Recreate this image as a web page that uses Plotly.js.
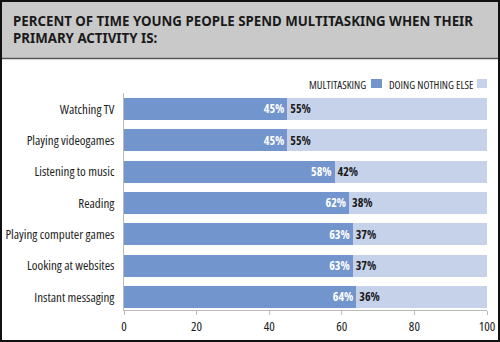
<!DOCTYPE html>
<html><head><meta charset="utf-8">
<script src="https://cdn.plot.ly/plotly-3.0.1.min.js"></script>
<style>html,body{margin:0;padding:0;background:#fff}#chart{width:500px;height:342px}
text,tspan{font-stretch:condensed !important}</style>
</head><body><div id="chart"></div>
<script>
const categories = ["Watching TV","Playing videogames","Listening to music","Reading","Playing computer games","Looking at websites","Instant messaging"];
const multitasking = [45,45,58,62,63,63,64];
const nothingElse = [55,55,42,38,37,37,36];
const xTicks = [0,20,40,60,80,100];

const FONT = "'Open Sans','Roboto Condensed','DejaVu Sans Condensed',sans-serif";
const TITLE_FONT = "'Noto Sans','Open Sans',sans-serif";

const traces = [
  {type:'bar', orientation:'h', name:'MULTITASKING', y:categories, x:multitasking,
   marker:{color:'#7395cd', line:{width:0}}, width:0.7,
   text:multitasking.map(v=>v+'%'), textposition:'inside', insidetextanchor:'end',
   textfont:{color:'#ffffff', size:12, family:FONT, weight:'bold'}, constraintext:'none', hoverinfo:'skip'},
  {type:'bar', orientation:'h', name:'DOING NOTHING ELSE', y:categories, x:nothingElse,
   marker:{color:'#c6d1ea', line:{width:0}}, width:0.7,
   text:nothingElse.map(v=>v+'%'), textposition:'inside', insidetextanchor:'start',
   textfont:{color:'#1a1a1a', size:12, family:FONT, weight:'bold'}, constraintext:'none', hoverinfo:'skip'}
];

const layout = {
  width:500, height:342,
  margin:{l:124, r:13, t:93, b:32},
  paper_bgcolor:'#ffffff', plot_bgcolor:'#ffffff',
  barmode:'stack', showlegend:false,
  font:{family:FONT, color:'#222'},
  title:{text:'PERCENT OF TIME YOUNG PEOPLE SPEND MULTITASKING WHEN THEIR<br>PRIMARY ACTIVITY IS:',
         x:13/500, xref:'container', xanchor:'left', y:1-26/342, yref:'container', yanchor:'top',
         font:{family:TITLE_FONT, size:13.3, color:'#1a1a1a', weight:'bold'}},
  xaxis:{range:[0,100], tickvals:xTicks, ticktext:xTicks.map(String), showgrid:false, zeroline:false,
         showline:true, linecolor:'#bbbbbb', linewidth:1, ticks:'outside', ticklen:4, tickcolor:'#bbbbbb',
         tickfont:{size:13, color:'#222', family:FONT}, fixedrange:true},
  yaxis:{type:'category', categoryorder:'array', categoryarray:categories, range:[6.415,-0.51],
         showgrid:false, zeroline:false, showline:true, linecolor:'#bbbbbb', linewidth:1, ticks:'',
         ticklabelstandoff:6, tickfont:{size:13, color:'#1e1e1e', family:FONT}, fixedrange:true},
  shapes:[
    {type:'rect', xref:'paper', yref:'paper', x0:-124/363, x1:1+13/363, y0:1+(93-58)/217, y1:1+93/217,
     fillcolor:'#c9c9c9', line:{width:0}, layer:'below'},
    {type:'line', xref:'paper', yref:'paper', x0:-124/363, x1:1+13/363, y0:1+(93-58.5)/217, y1:1+(93-58.5)/217,
     line:{color:'#555555', width:1.5}},
    {type:'rect', xref:'paper', yref:'paper', x0:(371-124)/363, x1:(382-124)/363, y0:1+(93-88)/217, y1:1+(93-79)/217,
     fillcolor:'#7395cd', line:{width:0}},
    {type:'rect', xref:'paper', yref:'paper', x0:(477-124)/363, x1:(487-124)/363, y0:1+(93-88)/217, y1:1+(93-79)/217,
     fillcolor:'#c6d1ea', line:{width:0}}
  ],
  annotations:[
    {text:'MULTITASKING', xref:'paper', yref:'paper', x:(368-124)/363, y:1+(93-84)/217, xanchor:'right', yanchor:'middle',
     showarrow:false, font:{size:11, color:'#222', family:FONT}},
    {text:'DOING NOTHING ELSE', xref:'paper', yref:'paper', x:(475-124)/363, y:1+(93-84)/217, xanchor:'right', yanchor:'middle',
     showarrow:false, font:{size:11, color:'#222', family:FONT}}
  ]
};

Plotly.newPlot('chart', traces, layout, {displayModeBar:false, staticPlot:true}).then(()=>{
  const svgs = document.querySelectorAll('#chart .main-svg');
  const r = document.createElementNS('http://www.w3.org/2000/svg','rect');
  r.setAttribute('x','1'); r.setAttribute('y','1'); r.setAttribute('width','498'); r.setAttribute('height','340');
  r.setAttribute('fill','none'); r.setAttribute('stroke','#111'); r.setAttribute('stroke-width','2');
  svgs[svgs.length-1].appendChild(r);
});
</script>
</body></html>
